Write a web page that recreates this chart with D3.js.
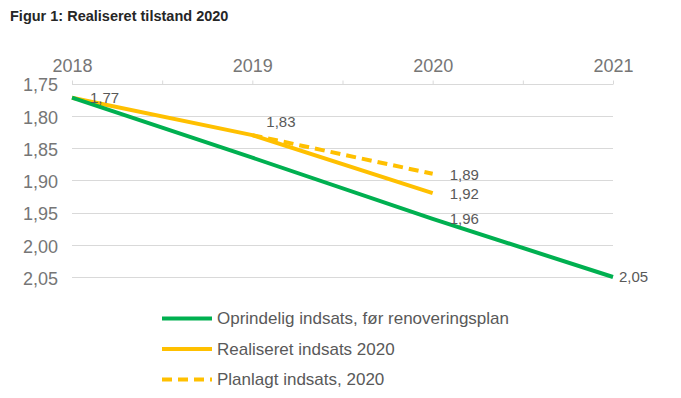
<!DOCTYPE html>
<html>
<head>
<meta charset="utf-8">
<script src="https://cdn.jsdelivr.net/npm/d3@7"></script>
<style>
  body { margin: 0; background: #fff; }
  svg { font-family: "Liberation Sans", Arial, sans-serif; }
</style>
</head>
<body>
<div id="chart"></div>
<script>
"use strict";
const years = [2018, 2019, 2020, 2021];
const yTicks = [1.75, 1.8, 1.85, 1.9, 1.95, 2.0, 2.05];

const oprindelig = [1.772, 1.865, 1.96, 2.05];
const realiseret = [1.772, 1.83, 1.92];
const planlagt = [null, 1.83, 1.89];

const seriesNames = [
    "Oprindelig indsats, før renoveringsplan",
    "Realiseret indsats 2020",
    "Planlagt indsats, 2020"
];

const width = 681, height = 398;
const margin = {top: 83.5, left: 72, right: 68, bottom: 121};

const svg = d3.select("#chart").append("svg")
    .attr("width", width)
    .attr("height", height);

const x = d3.scaleLinear().domain([2018, 2021]).range([margin.left, width - margin.right]);
const y = d3.scaleLinear().domain([1.75, 2.05]).range([margin.top, height - margin.bottom]);

const fmt = (d) => d.toFixed(2).replace(".", ",");

// title
svg.append("text")
    .attr("x", 10)
    .attr("y", 20.5)
    .attr("font-size", 14.5)
    .attr("font-weight", "bold")
    .attr("fill", "#262626")
    .text("Figur 1: Realiseret tilstand 2020");

// horizontal gridlines
svg.append("g")
    .selectAll("line")
    .data(yTicks)
    .join("line")
    .attr("x1", x(2018))
    .attr("x2", x(2021))
    .attr("y1", (d) => Math.round(y(d)) + 0.5)
    .attr("y2", (d) => Math.round(y(d)) + 0.5)
    .attr("stroke", "#d9d9d9")
    .attr("stroke-width", 1);

// top axis with half-year ticks
const xAxis = d3.axisTop(x)
    .tickValues(d3.range(2018, 2021.01, 0.5))
    .tickFormat((d) => (Number.isInteger(d) ? d : ""))
    .tickSize(4)
    .tickPadding(9);

svg.append("g")
    .attr("transform", `translate(0,${Math.round(y(1.75)) + 0.5})`)
    .call(xAxis)
    .call((g) => g.select(".domain").remove())
    .call((g) => g.selectAll(".tick line").attr("stroke", "#d9d9d9"))
    .call((g) => g.selectAll(".tick text")
        .attr("font-size", 18)
        .attr("font-family", "Liberation Sans, Arial, sans-serif")
        .attr("fill", "#767676"));

// left axis
const yAxis = d3.axisLeft(y)
    .tickValues(yTicks)
    .tickFormat(fmt)
    .tickSize(0)
    .tickPadding(14);

svg.append("g")
    .attr("transform", `translate(${margin.left},1.5)`)
    .call(yAxis)
    .call((g) => g.select(".domain").remove())
    .call((g) => g.selectAll(".tick text")
        .attr("font-size", 18)
        .attr("font-family", "Liberation Sans, Arial, sans-serif")
        .attr("fill", "#767676"));

// lines
const line = d3.line()
    .defined((d) => d[1] != null)
    .x((d) => x(d[0]))
    .y((d) => y(d[1]));

const series = [
    {values: oprindelig, color: "#00B050", dash: null},
    {values: realiseret, color: "#FFC000", dash: null},
    {values: planlagt, color: "#FFC000", dash: "10,6"}
];

svg.append("g")
    .selectAll("path")
    .data(series.slice().reverse())
    .join("path")
    .attr("fill", "none")
    .attr("stroke", (d) => d.color)
    .attr("stroke-width", 4)
    .attr("stroke-dasharray", (d) => d.dash)
    .attr("d", (d) => line(d.values.map((v, i) => [years[i], v])));

// data labels
const labels = [
    {year: 2018, value: oprindelig[0], dx: 18, dy: 0},
    {year: 2019, value: realiseret[1], dx: 14, dy: -13},
    {year: 2020, value: planlagt[2], dx: 17, dy: 1},
    {year: 2020, value: realiseret[2], dx: 17, dy: 1},
    {year: 2020, value: oprindelig[2], dx: 17, dy: 0},
    {year: 2021, value: oprindelig[3], dx: 6, dy: 0}
];

svg.append("g")
    .selectAll("text")
    .data(labels)
    .join("text")
    .attr("x", (d) => x(d.year) + d.dx)
    .attr("y", (d) => y(d.value) + d.dy)
    .attr("dy", "0.35em")
    .attr("font-size", 15)
    .attr("fill", "#595959")
    .text((d) => fmt(d.value));

// legend
const legend = svg.append("g")
    .selectAll("g")
    .data(series)
    .join("g")
    .attr("transform", (d, i) => `translate(162,${318.5 + i * 30.5})`);

legend.append("line")
    .attr("x1", 0)
    .attr("x2", 50)
    .attr("stroke", (d) => d.color)
    .attr("stroke-width", 4)
    .attr("stroke-dasharray", (d) => d.dash);

legend.append("text")
    .attr("x", 55)
    .attr("dy", "0.35em")
    .attr("font-size", 17)
    .attr("fill", "#595959")
    .text((d, i) => seriesNames[i]);
</script>
</body>
</html>
